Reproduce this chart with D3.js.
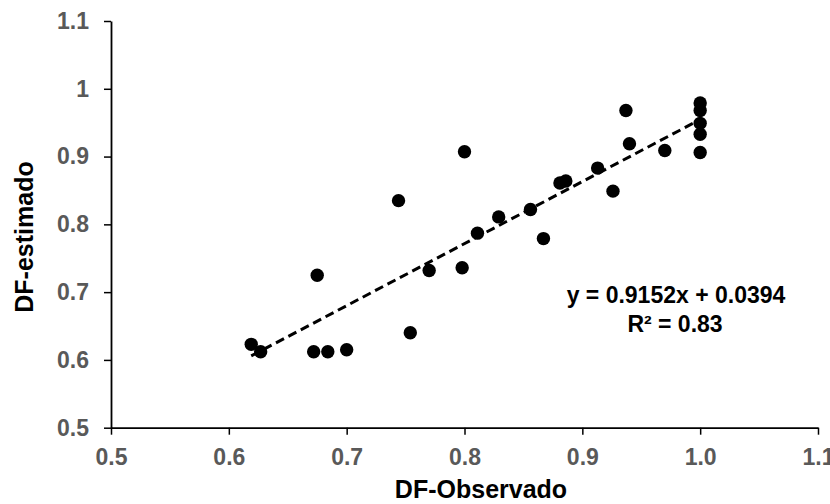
<!DOCTYPE html>
<html>
<head>
<meta charset="utf-8">
<script src="https://cdn.jsdelivr.net/npm/d3@7"></script>
<style>
  html, body { margin:0; padding:0; background:#fff; }
  text { font-family:"Liberation Sans", Arial, sans-serif; font-weight:bold; }
</style>
</head>
<body>
<svg id="chart"></svg>
<script>
// observed vs estimated DF
const observed = [
  0.619, 0.627, 0.672, 0.684, 0.700, 0.675, 0.744, 0.754, 0.770, 0.798,
  0.800, 0.811, 0.829, 0.856, 0.867, 0.881, 0.886, 0.913, 0.926, 0.937,
  0.940, 0.970, 1.0, 1.0, 1.0, 1.0, 1.0
];
const estimated = [
  0.623, 0.612, 0.612, 0.612, 0.615, 0.725, 0.835, 0.640, 0.732, 0.736,
  0.907, 0.787, 0.811, 0.822, 0.779, 0.861, 0.864, 0.883, 0.849, 0.968,
  0.919, 0.909, 0.979, 0.968, 0.949, 0.933, 0.906
];
const xTicks = [0.5, 0.6, 0.7, 0.8, 0.9, 1.0, 1.1];
const yTicks = [0.5, 0.6, 0.7, 0.8, 0.9, 1.0, 1.1];
const slope = 0.9152;
const intercept = 0.0394;
const eqLabel = "y = 0.9152x + 0.0394";
const r2Label = "R² = 0.83";

const W = 830;
const H = 504;

const svg = d3.select("#chart")
  .attr("width",W)
  .attr("height",H);

const x = d3.scaleLinear()
  .domain([0.5,1.1])
  .range([111,818]);

const y = d3.scaleLinear()
  .domain([0.5,1.1])
  .range([427.7,21]);

// axes
const xAxis = svg.append("g")
  .attr("transform",`translate(0,${y(0.5)})`)
  .call(
    d3.axisBottom(x)
      .tickValues(xTicks)
      .tickFormat(d3.format(".1f"))
      .tickSizeInner(7)
      .tickSizeOuter(0)
      .tickPadding(14)
  );

const yAxis = svg.append("g")
  .attr("transform",`translate(${x(0.5)},0)`)
  .call(
    d3.axisLeft(y)
      .tickValues(yTicks)
      .tickFormat(d=>d===1 ? "1" : d3.format(".1f")(d))
      .tickSizeInner(7)
      .tickSizeOuter(0)
      .tickPadding(15)
  );

[xAxis,yAxis].forEach(a=>{
  a.select(".domain").attr("stroke","#000").attr("stroke-width",1.8);
  a.selectAll(".tick line").attr("stroke","#000").attr("stroke-width",1.5);
  a.selectAll(".tick text")
    .attr("fill","#595959")
    .style("font-size","23px")
    .style("font-family","'Liberation Sans', Arial, sans-serif")
    .style("font-weight","bold");
});

// axis titles
svg.append("text")
  .attr("x",481)
  .attr("y",498)
  .attr("text-anchor","middle")
  .style("font-size","25px")
  .text("DF-Observado");

svg.append("text")
  .attr("transform",`translate(33,237) rotate(-90)`)
  .attr("text-anchor","middle")
  .style("font-size","25px")
  .text("DF-estimado");

// trendline
const xMin = d3.min(observed);
const xMax = d3.max(observed);
svg.append("line")
  .attr("x1",x(xMin))
  .attr("y1",y(slope*xMin+intercept))
  .attr("x2",x(xMax))
  .attr("y2",y(slope*xMax+intercept))
  .attr("stroke","#000")
  .attr("stroke-width",3)
  .attr("stroke-dasharray","9,5");

// points
svg.selectAll(".pt")
  .data(observed.map((d,i)=>({o:d,e:estimated[i]})))
  .join("circle")
  .attr("class","pt")
  .attr("cx",d=>x(d.o))
  .attr("cy",d=>y(d.e))
  .attr("r",6.7)
  .attr("fill","#000");

// equation
svg.append("text")
  .attr("x",676)
  .attr("y",303)
  .attr("text-anchor","middle")
  .style("font-size","23px")
  .text(eqLabel);

svg.append("text")
  .attr("x",675)
  .attr("y",332)
  .attr("text-anchor","middle")
  .style("font-size","23px")
  .text(r2Label);
</script>
</body>
</html>
